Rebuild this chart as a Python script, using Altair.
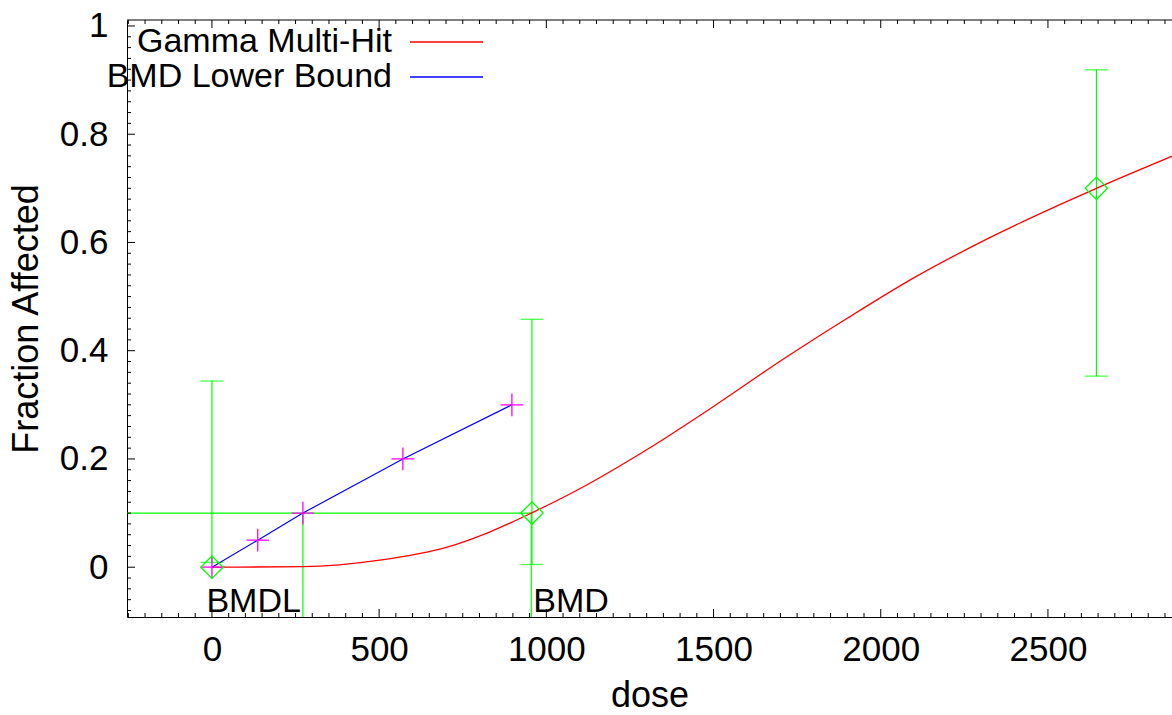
import altair as alt
import pandas as pd

# ---- data ----
dose = [0, 957, 2645]
frac = [0.0, 0.1, 0.70]
ci_low = [0.009, 0.005, 0.353]
ci_high = [0.344, 0.458, 0.919]

fit_dose = [0, 272, 502, 703, 830, 955, 1100, 1300, 1500, 1700, 1900, 2100, 2323, 2645, 2874]
fit_frac = [0.0, 0.001, 0.013, 0.037, 0.065, 0.1, 0.145, 0.217, 0.297, 0.381, 0.46, 0.535, 0.608, 0.70, 0.76]

bmdl_dose = [0, 137, 272, 571, 897]
bmdl_frac = [0.0, 0.05, 0.1, 0.2, 0.3]

BMD = 955
BMDL = 272
BMR = 0.1

x_dom = [-254, 2871]
y_dom = [-0.092, 1.011]
x_major = [0, 500, 1000, 1500, 2000, 2500]
y_major = [0, 0.2, 0.4, 0.6, 0.8, 1]
x_minor = [v for v in range(-250, 2871, 50) if v % 500 != 0]
y_minor = [round(-0.08 + 0.02 * i, 2) for i in range(55) if round(-0.08 + 0.02 * i, 2) not in (0, 0.2, 0.4, 0.6, 0.8, 1.0)]
legend_labels = ["Gamma Multi-Hit", "BMD Lower Bound"]
legend_colors = ["#ff0000", "#0000ff"]
marker_labels = ["BMDL", "BMD"]

W, H = 1045, 597
FONT = "Liberation Sans"
FS_TICK = 35
FS_TITLE = 36
FS_LEG = 34
FS_LAB = 34
GREEN = "#00ff00"

xs = alt.Scale(domain=x_dom, nice=False, zero=False)
ys = alt.Scale(domain=y_dom, nice=False, zero=False)
x_axis = alt.Axis(values=x_major, title="dose", grid=False, ticks=False, tickSize=0,
                  labelPadding=15, titlePadding=11, labelFlush=False, format="d")
y_axis = alt.Axis(values=y_major, title="Fraction Affected", grid=False, ticks=False, tickSize=0,
                  labelPadding=19, titlePadding=14, labelFlush=False, format="~g")


def X(f):
    return alt.X(f"{f}:Q", scale=xs, axis=x_axis)


def Y(f):
    return alt.Y(f"{f}:Q", scale=ys, axis=y_axis)


obs = pd.DataFrame({"x": dose, "y": frac, "lo": ci_low, "hi": ci_high})
fit = pd.DataFrame({"x": fit_dose, "y": fit_frac})
low = pd.DataFrame({"x": bmdl_dose, "y": bmdl_frac})

layers = []

# BMR horizontal line and BMD / BMDL verticals
hline = pd.DataFrame({"x": [x_dom[0]], "x2": [BMD], "y": [BMR]})
layers.append(alt.Chart(hline).mark_rule(color=GREEN, strokeWidth=1.2, clip=True).encode(
    x=X("x"), x2="x2:Q", y=Y("y")))
vlines = pd.DataFrame({"x": [BMDL, BMD], "y": [BMR, BMR], "y2": [y_dom[0], y_dom[0]]})
layers.append(alt.Chart(vlines).mark_rule(color=GREEN, strokeWidth=1.2, clip=True).encode(
    x=X("x"), y=Y("y"), y2="y2:Q"))

# error bars
layers.append(alt.Chart(obs).mark_rule(color=GREEN, strokeWidth=1.2).encode(
    x=X("x"), y=Y("lo"), y2="hi:Q"))
layers.append(alt.Chart(obs).mark_tick(color=GREEN, orient="horizontal", size=23, thickness=1.3).encode(
    x=X("x"), y=Y("lo")))
layers.append(alt.Chart(obs).mark_tick(color=GREEN, orient="horizontal", size=23, thickness=1.3).encode(
    x=X("x"), y=Y("hi")))

# fitted curve
layers.append(alt.Chart(fit).mark_line(color="#ff0000", strokeWidth=1.3, interpolate="monotone", clip=True).encode(
    x=X("x"), y=Y("y")))
# BMD lower bound
layers.append(alt.Chart(low).mark_line(color="#0000ff", strokeWidth=1.2).encode(
    x=X("x"), y=Y("y")))
layers.append(alt.Chart(low).mark_point(shape="M-1,0L1,0M0,-1L0,1", size=520, filled=False,
                                        color="#ff00ff", strokeWidth=1.3, opacity=1).encode(
    x=X("x"), y=Y("y")))
# observed points
layers.append(alt.Chart(obs).mark_point(shape="diamond", size=500, filled=False,
                                        color=GREEN, strokeWidth=1.3, opacity=1).encode(
    x=X("x"), y=Y("y")))

# BMDL / BMD labels
lab_l = pd.DataFrame({"x": [BMDL], "t": [marker_labels[0]]})
lab_r = pd.DataFrame({"x": [BMD], "t": [marker_labels[1]]})
layers.append(alt.Chart(lab_l).mark_text(align="right", baseline="alphabetic", dx=-2, font=FONT,
                                         fontSize=FS_LAB, color="black").encode(
    x=X("x"), y=alt.value(H - 5), text="t:N"))
layers.append(alt.Chart(lab_r).mark_text(align="left", baseline="alphabetic", dx=2, font=FONT,
                                         fontSize=FS_LAB, color="black").encode(
    x=X("x"), y=alt.value(H - 5), text="t:N"))

# inward ticks: bottom, top, left
for vals, ln in ((x_major, 8), (x_minor, 4)):
    td = pd.DataFrame({"x": vals})
    layers.append(alt.Chart(td).mark_rule(color="black", strokeWidth=1, clip=True).encode(
        x=X("x"), y=alt.value(H), y2=alt.value(H - ln)))
    layers.append(alt.Chart(td).mark_rule(color="black", strokeWidth=1, clip=True).encode(
        x=X("x"), y=alt.value(0), y2=alt.value(ln)))
for vals, ln in ((y_major, 8), (y_minor, 4)):
    td = pd.DataFrame({"y": vals})
    layers.append(alt.Chart(td).mark_rule(color="black", strokeWidth=1, clip=True).encode(
        y=Y("y"), x=alt.value(0), x2=alt.value(ln)))

# top border
layers.append(alt.Chart(pd.DataFrame({"a": [0]})).mark_rule(color="black", strokeWidth=1).encode(
    x=alt.value(0), x2=alt.value(W), y=alt.value(0)))

# legend (inside plot, top-left)
for i, (lab, col) in enumerate(zip(legend_labels, legend_colors)):
    yy = 22 + 35 * i
    layers.append(alt.Chart(pd.DataFrame({"t": [lab]})).mark_text(
        align="right", baseline="middle", font=FONT, fontSize=FS_LEG, color="black").encode(
        x=alt.value(265), y=alt.value(yy), text="t:N"))
    layers.append(alt.Chart(pd.DataFrame({"t": [lab]})).mark_rule(color=col, strokeWidth=1.3).encode(
        x=alt.value(283), x2=alt.value(356), y=alt.value(yy)))

chart = alt.layer(*layers).properties(
    width=W, height=H,
    autosize=alt.AutoSizeParams(type="none"),
    padding={"left": 127, "top": 20, "right": 0, "bottom": 98},
    background="white",
).configure_view(stroke=None).configure_axis(
    labelFont=FONT, titleFont=FONT, labelFontSize=FS_TICK, titleFontSize=FS_TITLE,
    titleFontWeight="normal", labelColor="black", titleColor="black",
    domainColor="black", domainWidth=1, labelOverlap=False,
)

chart.save("out.html", embed_options={"renderer": "svg", "actions": False})
